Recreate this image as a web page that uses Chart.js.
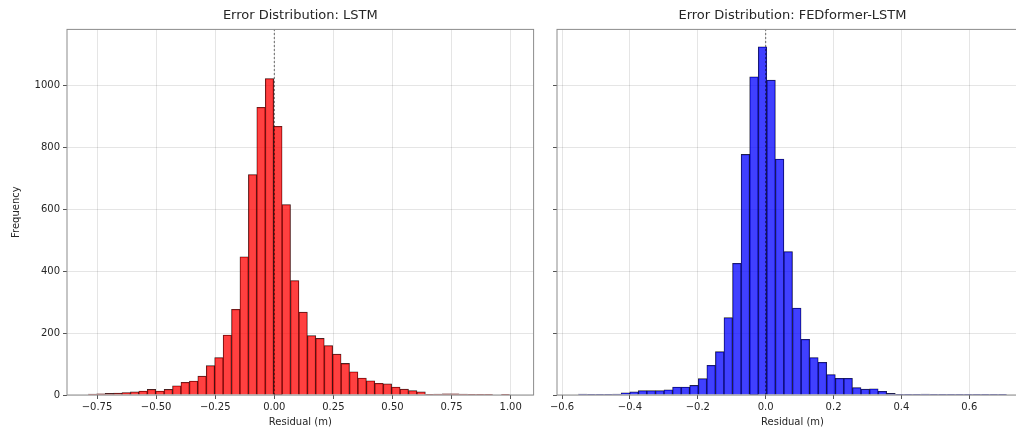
<!DOCTYPE html>
<html>
<head>
<meta charset="utf-8">
<script src="https://cdn.jsdelivr.net/npm/chart.js@4.4.1/dist/chart.umd.min.js"></script>
<style>
html,body{margin:0;padding:0;background:#fff;overflow:hidden;}
#wrap{position:relative;width:1016px;height:432px;overflow:hidden;}
#c1{position:absolute;left:0;top:0;}
#c2{position:absolute;left:540px;top:0;}
</style>
</head>
<body>
<div id="wrap">
<canvas id="c1" width="540" height="432"></canvas>
<canvas id="c2" width="500" height="432"></canvas>
</div>
<script>
// residual histograms (50 bins each)
var lstmBinStart = -0.787;
var lstmBinWidth = 0.03565;
var lstmCounts = [3, 4, 5, 6, 8, 10, 13, 18, 13, 18,
                  30, 41, 45, 61, 95, 121, 194, 277, 447, 713,
                  930, 1023, 869, 616, 370, 268, 192, 183, 160, 132,
                  102, 75, 55, 46, 38, 36, 26, 19, 14, 10,
                  2, 3, 4, 4, 3, 1, 1, 1, 0, 1];

var fedBinStart = -0.552;
var fedBinWidth = 0.02524;
var fedCounts = [3, 2, 2, 2, 3, 7, 10, 14, 14, 14,
                 17, 26, 26, 31, 53, 96, 140, 250, 426, 778,
                 1029, 1126, 1018, 763, 464, 281, 180, 121, 106, 66,
                 54, 54, 24, 19, 20, 12, 5, 2, 1, 2,
                 3, 2, 1, 1, 1, 1, 1, 1, 2, 1];

var lstmTicks = [-0.75, -0.5, -0.25, 0, 0.25, 0.5, 0.75, 1.0];
var fedTicks = [-0.6, -0.4, -0.2, 0, 0.2, 0.4, 0.6];
var freqTicks = [0, 200, 400, 600, 800, 1000];
var yMax = 1182;

var txt = '#262626';
Chart.defaults.font.family = "'DejaVu Sans', sans-serif";
Chart.defaults.color = txt;

// matplotlib-like box around the axes
var framePlugin = {
    id: 'frame',
    afterDraw: function(chart) {
        var a = chart.chartArea, ctx = chart.ctx;
        ctx.save();
        ctx.strokeStyle = '#8c8c8c';
        ctx.lineWidth = 1;
        ctx.strokeRect(a.left, a.top, a.right - a.left, a.bottom - a.top);
        ctx.restore();
    }
};

function binPoints(start, width, counts) {
    return counts.map(function(c, i) { return { x: start + (i + 0.5) * width, y: c }; });
}

function fmt(v, dec) {
    return v.toFixed(dec).replace('-', '\u2212');
}

function makeHist(id, title, start, width, counts, fill, xTicks, dec, xMin, xMax, lay, yW, showY) {
    return new Chart(document.getElementById(id), {
        type: 'bar',
        data: {
            datasets: [
                {
                    type: 'line',
                    data: [{ x: 0, y: 0 }, { x: 0, y: yMax }],
                    borderColor: 'rgba(0,0,0,0.55)',
                    borderWidth: 1,
                    borderDash: [2, 2],
                    pointRadius: 0,
                    order: 0
                },
                {
                    data: binPoints(start, width, counts),
                    backgroundColor: fill,
                    borderColor: 'rgba(0,0,0,0.85)',
                    borderWidth: 0.6,
                    barPercentage: 1.0,
                    categoryPercentage: 1.0,
                    order: 1
                }
            ]
        },
        options: {
            responsive: false,
            animation: false,
            layout: { padding: lay },
            plugins: {
                legend: { display: false },
                tooltip: { enabled: false },
                title: {
                    display: true,
                    text: title,
                    fullSize: false,
                    color: txt,
                    font: { size: 13, weight: 'normal' },
                    padding: { top: 8, bottom: 5.8 }
                }
            },
            scales: {
                x: {
                    type: 'linear',
                    min: xMin,
                    max: xMax,
                    offset: false,
                    border: { display: false },
                    grid: { offset: false, color: 'rgba(0,0,0,0.1)', tickColor: '#555', tickLength: 4 },
                    afterBuildTicks: function(s) { s.ticks = xTicks.map(function(v) { return { value: v }; }); },
                    afterFit: function(s) { s.height = 33.5; },
                    ticks: {
                        autoSkip: false, maxRotation: 0, padding: 2,
                        font: { size: 10 },
                        callback: function(v) { return fmt(v, dec); }
                    },
                    title: { display: true, text: 'Residual (m)', font: { size: 10 }, padding: 0 }
                },
                y: {
                    min: 0,
                    max: yMax,
                    border: { display: false },
                    grid: { color: 'rgba(0,0,0,0.1)', tickColor: '#555', tickLength: 4 },
                    afterBuildTicks: function(s) { s.ticks = freqTicks.map(function(v) { return { value: v }; }); },
                    afterFit: function(s) { s.width = yW; },
                    ticks: {
                        display: showY, padding: 3, font: { size: 10 },
                        callback: function(v) { return String(v); }
                    },
                    title: { display: showY, text: 'Frequency', font: { size: 10 }, padding: 0 }
                }
            }
        },
        plugins: [framePlugin]
    });
}

makeHist('c1', 'Error Distribution: LSTM', lstmBinStart, lstmBinWidth, lstmCounts,
    'rgba(255,0,0,0.75)', lstmTicks, 2, -0.877, 1.097,
    { left: 10, right: 6.4, top: 0, bottom: 3.5 }, 57, true);

makeHist('c2', 'Error Distribution: FEDformer-LSTM', fedBinStart, fedBinWidth, fedCounts,
    'rgba(0,0,255,0.75)', fedTicks, 1, -0.615, 0.773,
    { left: 0, right: 12, top: 0, bottom: 3.5 }, 17, false);
</script>
</body>
</html>
